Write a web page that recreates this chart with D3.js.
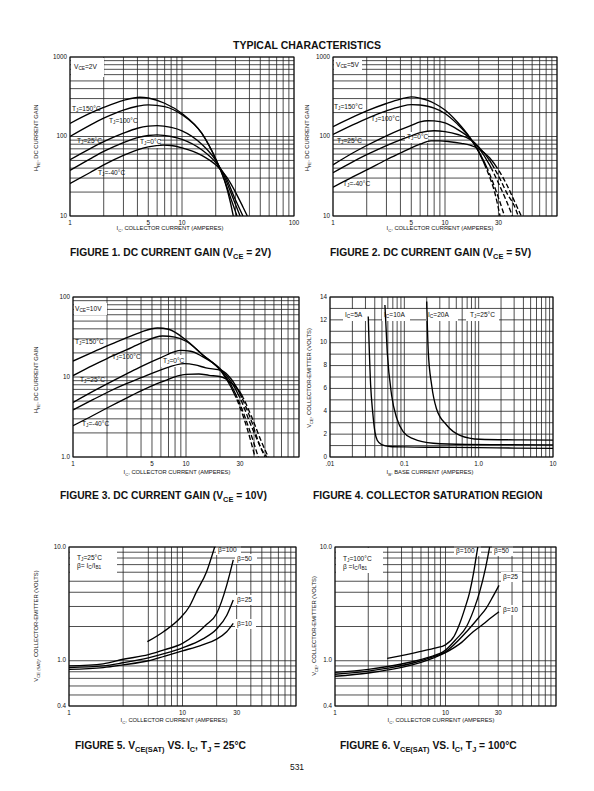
<!DOCTYPE html>
<html><head><meta charset="utf-8">
<script src="https://cdn.jsdelivr.net/npm/d3@7"></script>
<style>
body{margin:0;background:#fff;}
svg text{font-family:"Liberation Sans",Arial,Helvetica,sans-serif;fill:#111;}
</style></head><body>
<svg id="page" width="594" height="791"></svg>
<script>
// ---------------- DATA ----------------
// Figure 1: hFE vs Ic, VCE = 2V  [Ic (A), hFE]
const F1_T150 = [[1,146],[1.5,195],[2,232],[3,285],[4.2,312],[5,305],[7,262],[10,195],[15,110],[20,52],[24,28],[27,15],[28.7,10]];
const F1_T100 = [[1,100],[1.5,138],[2,170],[3,215],[4,240],[5,250],[7,238],[10,188],[15,110],[20,52],[24,28],[28,15],[31,10]];
const F1_T25  = [[1,51],[1.5,70],[2,86],[3,110],[4,127],[5,135],[6,137],[8,130],[10,118],[15,80],[20,50],[24,31],[28,18],[33,10]];
const F1_T0   = [[1,37.5],[1.5,52],[2,65],[3,84],[4,97],[5,103],[6,105],[8,100],[10,92],[15,68],[20,47],[24,33],[30,16],[35,10]];
const F1_TM40 = [[1,25.6],[1.5,35],[2,44],[3,58],[4,68],[5,74],[6.8,78],[8,77],[10,72],[15,58],[20,44],[25,31],[30,20],[35,13],[38.3,10]];
// Figure 2: hFE vs Ic, VCE = 5V
const F2_T150 = [[1,133],[1.5,175],[2,210],[3,260],[4,295],[5,315],[6,303],[7,285],[8,262],[10,215],[13,150],[16.7,97],[20,64],[24,36],[28,19],[31,10]];
const F2_T100 = [[1,106],[1.5,140],[2,168],[3,210],[4,238],[5,252],[6,249],[7,240],[8,228],[10,195],[13,142],[16.7,96],[20,65],[25,34],[30,17],[34,10]];
const F2_T25  = [[1,44],[1.5,62],[2,77],[3,102],[4,122],[5,138],[6,153],[7,158],[8,157],[10,148],[13,122],[16.7,95],[20,72],[25,44],[30,26],[35,16],[40,10]];
const F2_T0   = [[1,35],[1.5,48],[2,59],[3,77],[4,91],[5,102],[6,112],[8,118],[10,115],[13,106],[16.7,92],[20,74],[25,50],[30,32],[36,19],[42,13],[45,10]];
const F2_TM40 = [[1,23],[1.5,31],[2,38],[3,51],[4,62],[5,72],[6,80],[7.5,88],[9,88],[11,86],[14,82],[16.7,78],[20,70],[25,54],[30,38],[36,24],[42,15],[48,10]];
// Figure 3: hFE vs Ic, VCE = 10V
const F3_T150 = [[1,15.8],[1.5,20.5],[2,24.5],[3,31],[4,36.5],[5.6,41],[7,39.5],[10,29],[14,19],[20.7,11.5],[25,7.5],[30,4.2],[35,2.2],[40.8,1]];
const F3_T100 = [[1,10.4],[1.5,14],[2,17],[3,22],[4,26.5],[6.2,32.5],[8,31.5],[10,28],[14,19],[20.7,11.8],[25,8],[30,4.6],[36,2.3],[43.6,1]];
const F3_T25  = [[1,4.8],[1.5,6.6],[2,8.2],[3,11],[4,13.5],[6,17.5],[9,21.5],[11,21],[14,18],[20.7,12.2],[25,8.8],[30,5.5],[38,2.4],[50,1]];
const F3_T0   = [[1,3.87],[1.5,5.2],[2,6.4],[3,8.3],[4,9.8],[6,12.3],[9.7,14.7],[12,14.2],[15,13],[20.7,12],[25,9.5],[30,6.2],[38,2.8],[46,1.3],[52,1]];
const F3_TM40 = [[1,2.46],[1.5,3.3],[2,4.1],[3,5.5],[4,6.7],[6,8.6],[10,10.8],[13,10.9],[16,10.5],[20.7,10],[25,8.5],[30,6.5],[38,3.2],[47,1.5],[53.5,1]];
// Figure 4: VCE vs IB  [IB (A), VCE (V)]
const F4_IC5  = [[0.0327,12.3],[0.0352,6.3],[0.0375,3.95],[0.0402,2.2],[0.0432,1.47],[0.0495,1.09],[0.064,0.92],[0.1,0.88],[0.3,0.85],[1,0.82],[3,0.78],[10,0.75]];
const F4_IC10 = [[0.0548,13.3],[0.0589,9.2],[0.0675,5.4],[0.079,3.4],[0.0968,2.2],[0.131,1.6],[0.245,1.2],[0.685,1.1],[2,1.08],[10,1.06]];
const F4_IC20 = [[0.2,13.6],[0.21,9.2],[0.233,6.3],[0.27,4.25],[0.37,2.8],[0.56,1.9],[1.03,1.55],[3,1.5],[10,1.48]];
// Figure 5: VCE(sat) vs Ic, TJ = 25C  [Ic (A), V]
const F5_B100 = [[4.9,1.47],[6.8,1.8],[9.5,2.36],[11.5,3.0],[13.3,4.05],[16.3,6.06],[19.2,10]];
const F5_B50  = [[1,0.90],[2,0.94],[3,1.03],[5,1.13],[7,1.25],[10,1.42],[13,1.7],[16,2.05],[20,2.6],[24.5,4.6],[28,7.7]];
const F5_B25  = [[1,0.87],[2,0.9],[3,0.96],[5,1.06],[7,1.16],[10,1.3],[15,1.55],[20,1.9],[24.5,2.5],[28,3.42]];
const F5_B10  = [[1,0.84],[2,0.87],[3,0.92],[5,1.0],[7,1.1],[10,1.22],[15,1.38],[20,1.55],[24.5,1.8],[28,2.13]];
// Figure 6: VCE(sat) vs Ic, TJ = 100C
const F6_B100 = [[2.97,1.05],[4,1.11],[5,1.16],[6,1.21],[8,1.29],[10,1.38],[12,1.65],[13.4,2.1],[15,2.9],[16.6,4.05],[18,6.0],[19,8.3],[19.6,10]];
const F6_B50  = [[1,0.79],[2,0.84],[3,0.89],[5,0.98],[7,1.07],[10,1.24],[12.5,1.55],[15.5,2.0],[18,2.8],[20.4,4.05],[23,6.5],[25.1,10]];
const F6_B25  = [[1,0.76],[2,0.81],[3,0.86],[5,0.95],[7,1.05],[10,1.2],[15.5,1.8],[20,2.4],[23.4,2.9],[27,3.7],[30.5,4.6]];
const F6_B10  = [[1,0.73],[2,0.78],[3,0.83],[5,0.92],[7,1.02],[10,1.18],[14,1.45],[17.8,1.8],[22,2.1],[26,2.4],[30.5,2.7]];

// tick labels
const HFE_TICKS_1000 = [[10,"10"],[100,"100"],[1000,"1000"]];
const HFE_TICKS_100  = [[1,"1.0"],[10,"10"],[100,"100"]];
const IC_TICKS_A = [[1,"1"],[5,"5"],[10,"10"],[100,"100"]];
const IC_TICKS_B = [[1,"1"],[5,"5"],[10,"10"],[30,"30"]];
const IC_TICKS_C = [[1,"1"],[10,"10"],[30,"30"]];
const IB_TICKS = [[0.01,".01"],[0.1,"0.1"],[1,"1.0"],[10,"10"]];
const VCE_TICKS = [[0,"0"],[2,"2"],[4,"4"],[6,"6"],[8,"8"],[10,"10"],[12,"12"],[14,"14"]];
const VSAT_TICKS = [[0.4,"0.4"],[1,"1.0"],[10,"10.0"]];

// ---------------- DRAWING ----------------
const svg = d3.select("#page");
svg.append("rect").attr("width",594).attr("height",791).attr("fill","#fff");

function rich(text, parts, fs){
  let cur = 0;
  parts.forEach(p=>{
    const sub = typeof p !== "string";
    const target = sub ? fs*0.32 : 0;
    const ts = text.append("tspan").attr("font-size", sub? fs*0.72 : fs).text(sub? p.sub : p);
    if (target !== cur) { ts.attr("dy", target-cur); cur = target; }
  });
  return text;
}

function logGrid(lo, hi, skip){
  const out=[];
  for(let e=Math.floor(Math.log10(lo)); e<=Math.ceil(Math.log10(hi)); e++)
    for(let m=1;m<10;m++){
      const v=+(m*Math.pow(10,e)).toPrecision(6);
      if(v>=lo*0.9999 && v<=hi*1.0001 && !(skip && v<10 && skip.includes(m))) out.push(v);
    }
  return out;
}

let clipId = 0;
function chart(cfg){
  const {x0,x1,y0,y1} = cfg;
  const g = svg.append("g");
  const x = d3.scaleLog().domain(cfg.xDomain).range([x0,x1]);
  const y = (cfg.yLinear ? d3.scaleLinear() : d3.scaleLog()).domain(cfg.yDomain).range([y1,y0]);
  const xg = logGrid(cfg.xDomain[0], cfg.xDomain[1], cfg.xSkip);
  const yg = cfg.yLinear ? d3.range(cfg.yDomain[0], cfg.yDomain[1]+0.001, 1) : logGrid(cfg.yDomain[0], cfg.yDomain[1]);
  g.selectAll(".vg").data(xg).join("line").attr("x1",d=>x(d)).attr("x2",d=>x(d)).attr("y1",y0).attr("y2",y1)
    .attr("stroke","#222").attr("stroke-width",0.8);
  g.selectAll(".hg").data(yg).join("line").attr("y1",d=>y(d)).attr("y2",d=>y(d)).attr("x1",x0).attr("x2",x1)
    .attr("stroke","#222").attr("stroke-width",0.8);
  (cfg.boxes||[]).forEach(b=>{
    g.append("rect").attr("x",x0+b[0]).attr("y",y0+b[1]).attr("width",b[2]).attr("height",b[3]).attr("fill","#fff");
  });
  g.append("rect").attr("x",x0).attr("y",y0).attr("width",x1-x0).attr("height",y1-y0)
    .attr("fill","none").attr("stroke","#111").attr("stroke-width",1);
  const cid = "c"+(clipId++);
  const defs = svg.append("defs");
  const line = d3.line().x(d=>x(d[0])).y(d=>y(d[1])).curve(d3.curveMonotoneX);
  const solid = defs.append("clipPath").attr("id",cid+"s");
  let dashClip = null;
  if (cfg.dash){
    const py = y(cfg.dash[1]), px = x(cfg.dash[0]);
    solid.append("rect").attr("x",x0).attr("y",y0).attr("width",x1-x0).attr("height",py-y0);
    solid.append("rect").attr("x",x0).attr("y",py).attr("width",px-x0).attr("height",y1-py);
    dashClip = cid+"d";
    defs.append("clipPath").attr("id",dashClip).append("rect").attr("x",px).attr("y",py).attr("width",x1-px).attr("height",y1-py);
  } else {
    solid.append("rect").attr("x",x0).attr("y",y0).attr("width",x1-x0).attr("height",y1-y0);
  }
  cfg.series.forEach(s=>{
    g.append("path").attr("d",line(s)).attr("fill","none").attr("stroke","#000").attr("stroke-width",1.35)
      .attr("clip-path",`url(#${cid}s)`);
    if (dashClip) g.append("path").attr("d",line(s)).attr("fill","none").attr("stroke","#000").attr("stroke-width",1.35)
      .attr("stroke-dasharray","5,2.5").attr("clip-path",`url(#${dashClip})`);
  });
  cfg.yTicks.forEach(t=>{
    g.append("text").attr("x",x0-3).attr("y",y(t[0])).attr("text-anchor","end").attr("dominant-baseline","middle")
      .attr("font-size",6.3).text(t[1]);
  });
  cfg.xTicks.forEach(t=>{
    g.append("text").attr("x",x(t[0])).attr("y",y1+7).attr("text-anchor","middle").attr("dominant-baseline","middle")
      .attr("font-size",6.3).text(t[1]);
  });
  rich(g.append("text").attr("x",cfg.xt[0]).attr("y",cfg.xt[1]).attr("text-anchor","middle"), cfg.xTitle, 5.8);
  rich(g.append("text").attr("transform",`translate(${cfg.yt[0]},${cfg.yt[1]}) rotate(-90)`).attr("text-anchor","middle"), cfg.yTitle, 5.8);
  (cfg.notes||[]).forEach(n=>{
    rich(g.append("text").attr("x",x0+n[0]).attr("y",y0+n[1]).attr("dominant-baseline","middle"), n[2], n[3]||6.6);
  });
  return g;
}

const TJ = v => ["T",{sub:"J"},"="+v];
const HFE_T = ["H",{sub:"FE"},", DC CURRENT GAIN"];
const IC_T = ["I",{sub:"C"},", COLLECTOR CURRENT (AMPERES)"];

chart({x0:70,x1:294,y0:57,y1:216,xDomain:[1,100],yDomain:[10,1000],
  series:[F1_T150,F1_T100,F1_T25,F1_T0,F1_TM40],
  xTicks:IC_TICKS_A,yTicks:HFE_TICKS_1000, xt:[170,230], yt:[38,138], xTitle:IC_T, yTitle:HFE_T,
  boxes:[[1,1,33,19],[68,80,22,11]],
  notes:[[4,10,["V",{sub:"CE"},"=2V"]],[2,52,TJ("150°C")],[39,64,TJ("100°C")],[7,84,TJ("25°C")],[70,85,TJ("0°C")],[28,116,TJ("-40°C")]]});

chart({x0:333,x1:557,y0:57,y1:216,xDomain:[1,100],yDomain:[10,1000],dash:[20,40],
  series:[F2_T150,F2_T100,F2_T25,F2_T0,F2_TM40],
  xTicks:IC_TICKS_B,yTicks:HFE_TICKS_1000, xt:[440,230], yt:[309,138], xTitle:IC_T, yTitle:HFE_T,
  boxes:[[1,3,28,11],[72,75,23,11]],
  notes:[[3,8,["V",{sub:"CE"},"=5V"]],[1,50,TJ("150°C")],[38,62,TJ("100°C")],[4,84,TJ("25°C")],[74,80,TJ("0°C")],[10,127,TJ("-40°C")]]});

chart({x0:73,x1:299,y0:297,y1:457,xDomain:[1,100],yDomain:[1,100],dash:[25,5.5],
  series:[F3_T150,F3_T100,F3_T25,F3_T0,F3_TM40],
  xTicks:IC_TICKS_B,yTicks:HFE_TICKS_100, xt:[177,474], yt:[38,380], xTitle:IC_T, yTitle:HFE_T,
  boxes:[[1,6,33,12],[88,58,23,12]],
  notes:[[2,12,["V",{sub:"CE"},"=10V"]],[2,45,TJ("150°C")],[39,60,TJ("100°C")],[7,83,TJ("25°C")],[90,64,TJ("0°C")],[9,127,TJ("-40°C")]]});

chart({x0:330,x1:553,y0:297,y1:457,xDomain:[0.01,10],yDomain:[0,14],yLinear:true,
  series:[F4_IC5,F4_IC10,F4_IC20],
  xTicks:IB_TICKS,yTicks:VCE_TICKS, xt:[430,474], yt:[311,378],
  xTitle:["I",{sub:"B"},", BASE CURRENT (AMPERES)"], yTitle:["V",{sub:"CE"},", COLLECTOR-EMITTER (VOLTS)"],
  boxes:[[13,12,25,12],[52,12,28,12],[96,12,32,12],[136,12,33,12]],
  notes:[[15,18,["I",{sub:"C"},"=5A"]],[54,18,["I",{sub:"C"},"=10A"]],[98,18,["I",{sub:"C"},"=20A"]],[140,18,TJ("25°C")]]});

chart({x0:69,x1:296,y0:547,y1:706,xDomain:[1,100],yDomain:[0.4,10],xSkip:[2,4],
  series:[F5_B100,F5_B50,F5_B25,F5_B10],
  xTicks:IC_TICKS_C,yTicks:VSAT_TICKS, xt:[174,722], yt:[38,626],
  xTitle:IC_T, yTitle:["V",{sub:"CE (SAT)"},", COLLECTOR-EMITTER (VOLTS)"],
  boxes:[[1,1,47,25],[147,-2,25,10],[166,7,22,10],[166,48,21,10],[166,72,21,10]],
  notes:[[8,11,TJ("25°C")],[8,19,["β= I",{sub:"C"},"/I",{sub:"B1"}]],[149,3,["β=100"]],[168,12,["β=50"]],[168,53,["β=25"]],[168,77,["β=10"]]]});

chart({x0:335,x1:556,y0:547,y1:706,xDomain:[1,100],yDomain:[0.4,10],
  series:[F6_B100,F6_B50,F6_B25,F6_B10],
  xTicks:IC_TICKS_C,yTicks:VSAT_TICKS, xt:[441,722], yt:[316,626],
  xTitle:IC_T, yTitle:["V",{sub:"CE"},", COLLECTOR-EMITTER (VOLTS)"],
  boxes:[[1,1,47,25],[119,-1,27,10],[157,-1,21,10],[166,25,21,10],[166,58,21,10]],
  notes:[[8,12,TJ("100°C")],[8,20,["β =I",{sub:"C"},"/I",{sub:"B1"}]],[121,4,["β=100"]],[159,4,["β=50"]],[168,30,["β=25"]],[168,63,["β=10"]]]});

svg.append("text").attr("x",307).attr("y",49).attr("text-anchor","middle").attr("font-weight","bold")
  .attr("font-size",10.5).text("TYPICAL CHARACTERISTICS");
function caption(x,y,parts){
  rich(svg.append("text").attr("x",x).attr("y",y).attr("font-weight","bold"), parts, 10.3);
}
caption(70,256,["FIGURE 1.  DC CURRENT GAIN (V",{sub:"CE"}," = 2V)"]);
caption(330,256,["FIGURE 2.  DC CURRENT GAIN (V",{sub:"CE"}," = 5V)"]);
caption(60,499,["FIGURE 3.  DC CURRENT GAIN (V",{sub:"CE"}," = 10V)"]);
caption(313,499,["FIGURE 4.  COLLECTOR SATURATION REGION"]);
caption(75,749,["FIGURE 5.  V",{sub:"CE(SAT)"}," VS. I",{sub:"C"},", T",{sub:"J"}," = 25°C"]);
caption(340,749,["FIGURE 6.  V",{sub:"CE(SAT)"}," VS. I",{sub:"C"},", T",{sub:"J"}," = 100°C"]);
svg.append("text").attr("x",297).attr("y",770).attr("text-anchor","middle").attr("font-size",8.5).text("531");
</script></body></html>
